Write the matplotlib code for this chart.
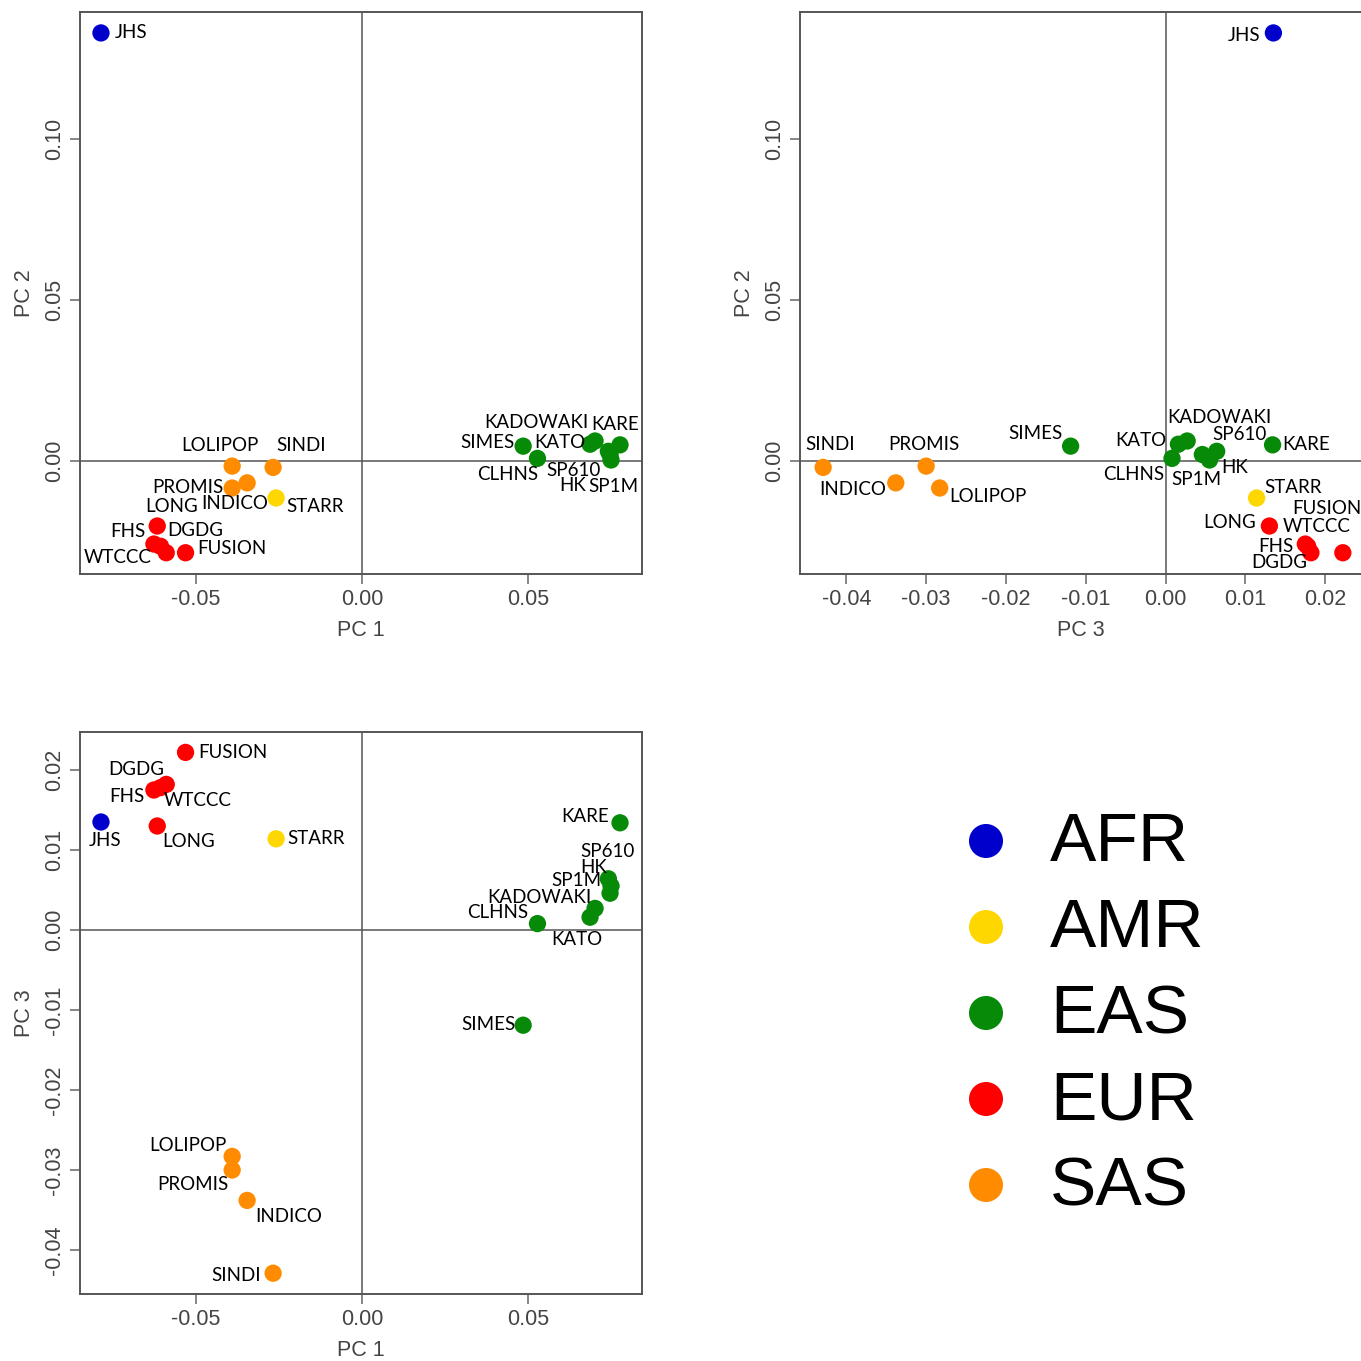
import matplotlib
matplotlib.use("Agg")
import matplotlib.pyplot as plt

# cohort principal components
cohorts = ["JHS", "STARR", "SIMES", "CLHNS", "KATO", "KADOWAKI", "KARE", "SP610",
           "HK", "SP1M", "LONG", "FHS", "WTCCC", "DGDG", "FUSION",
           "PROMIS", "LOLIPOP", "INDICO", "SINDI"]
groups = ["AFR", "AMR", "EAS", "EAS", "EAS", "EAS", "EAS", "EAS",
          "EAS", "EAS", "EUR", "EUR", "EUR", "EUR", "EUR",
          "SAS", "SAS", "SAS", "SAS"]
pc1 = [-0.0784, -0.0258, 0.0484, 0.0527, 0.0685, 0.0700, 0.0775, 0.0740,
       0.0748, 0.0745, -0.0615, -0.0625, -0.0605, -0.0588, -0.0530,
       -0.0390, -0.0390, -0.0345, -0.0267]
pc2 = [0.1329, -0.0115, 0.0046, 0.0008, 0.0052, 0.0062, 0.0050, 0.0030,
       0.0003, 0.0020, -0.0202, -0.0258, -0.0265, -0.0285, -0.0285,
       -0.0016, -0.0084, -0.0068, -0.0020]
pc3 = [0.0135, 0.0114, -0.0119, 0.0008, 0.0016, 0.0027, 0.0134, 0.0064,
       0.0055, 0.0046, 0.0130, 0.0175, 0.0178, 0.0182, 0.0222,
       -0.0300, -0.0283, -0.0338, -0.0429]

group_names = ["AFR", "AMR", "EAS", "EUR", "SAS"]
group_colors = {"AFR": "#0000cd", "AMR": "#ffd700", "EAS": "#078a07",
                "EUR": "#ff0000", "SAS": "#ff8c00"}

# label offsets in pixels (dx, dy) from each dot, one dict per panel
off_12 = {"JHS": (30, 0), "LOLIPOP": (-12, 43), "PROMIS": (-44, -21), "SINDI": (28, 22),
          "INDICO": (-12, -21), "STARR": (39, -9), "LONG": (14, 20), "FHS": (-26, 13),
          "WTCCC": (-43, -11), "DGDG": (29, 22), "FUSION": (46, 4), "SIMES": (-36, 4),
          "CLHNS": (-30, -16), "KATO": (-30, 2), "KADOWAKI": (-59, 18), "KARE": (-5, 20),
          "SP610": (-35, -19), "HK": (-38, -26), "SP1M": (3, -32)}
off_32 = {"JHS": (-29, -3), "SINDI": (7, 23), "PROMIS": (-2, 22), "INDICO": (-43, -7),
          "LOLIPOP": (48, -8), "SIMES": (-35, 13), "KATO": (-38, 4), "KADOWAKI": (32, 23),
          "SP610": (23, 17), "KARE": (34, 0), "CLHNS": (-38, -16), "SP1M": (-6, -25),
          "HK": (25, -8), "STARR": (36, 10), "LONG": (-40, 4), "FUSION": (-16, 44),
          "WTCCC": (9, 20), "FHS": (-29, -2), "DGDG": (-32, -10)}
off_13 = {"FUSION": (47, 0), "DGDG": (-30, 15), "FHS": (-27, -6), "WTCCC": (37, -13),
          "JHS": (4, -18), "LONG": (31, -15), "STARR": (40, 0), "KARE": (-35, 6),
          "SP610": (-1, 27), "HK": (-17, 19), "SP1M": (-34, 13), "KADOWAKI": (-56, 11),
          "KATO": (-13, -22), "CLHNS": (-40, 11), "SIMES": (-35, 1), "LOLIPOP": (-44, 11),
          "PROMIS": (-39, -14), "INDICO": (42, -16), "SINDI": (-37, -2)}

TICK_FONT = "Liberation Sans"
LABEL_FONT = "Lato"
GRID_GREY = "#555555"

fig = plt.figure(figsize=(13.61, 13.61), dpi=100)
W = 1361.0


def add_panel(x0, y0, x1, y1):
    return fig.add_axes([x0 / W, 1 - y1 / W, (x1 - x0) / W, (y1 - y0) / W])


def pca_panel(ax, xs, ys, offsets, xlim, ylim, xticks, yticks, xlabel, ylabel):
    ax.axhline(0, color=GRID_GREY, lw=1.1, zorder=1)
    ax.axvline(0, color=GRID_GREY, lw=1.1, zorder=1)
    cols = [group_colors[g] for g in groups]
    ax.scatter(xs, ys, s=155, c=cols, edgecolors="none", zorder=3)
    for name, x, y in zip(cohorts, xs, ys):
        dx, dy = offsets[name]
        ax.annotate(name, (x, y), xytext=(dx, dy), textcoords="offset pixels",
                    ha="center", va="center", fontsize=13.5, family=LABEL_FONT,
                    color="black", zorder=4)
    ax.set_xlim(xlim)
    ax.set_ylim(ylim)
    ax.set_xticks(xticks)
    ax.set_yticks(yticks)
    ax.set_xticklabels(["{:.2f}".format(v) for v in xticks], family=TICK_FONT,
                       fontsize=15.5, color="#444444")
    ax.set_yticklabels(["{:.2f}".format(v) for v in yticks], family=TICK_FONT,
                       fontsize=15.5, color="#444444", rotation=90, va="center")
    ax.tick_params(direction="out", length=7, width=1.1, color="#666666", pad=4)
    for sp in ax.spines.values():
        sp.set_color("#555555")
        sp.set_linewidth(1.4)
    ax.set_xlabel(xlabel, family=TICK_FONT, fontsize=15.5, color="#444444", labelpad=7)
    ax.set_ylabel(ylabel, family=TICK_FONT, fontsize=15.5, color="#444444", labelpad=6)


# PC1 vs PC2
ax1 = add_panel(80, 12, 642, 574)
pca_panel(ax1, pc1, pc2, off_12, (-0.0847, 0.0841), (-0.0351, 0.1394),
          [-0.05, 0.0, 0.05], [0.0, 0.05, 0.10], "PC 1", "PC 2")

# PC3 vs PC2
ax2 = add_panel(800, 12, 1362, 574)
pca_panel(ax2, pc3, pc2, off_32, (-0.0458, 0.0246), (-0.0351, 0.1394),
          [-0.04, -0.03, -0.02, -0.01, 0.0, 0.01, 0.02], [0.0, 0.05, 0.10],
          "PC 3", "PC 2")

# PC1 vs PC3
ax3 = add_panel(80, 732, 642, 1294)
pca_panel(ax3, pc1, pc3, off_13, (-0.0847, 0.0841), (-0.0455, 0.02475),
          [-0.05, 0.0, 0.05], [-0.04, -0.03, -0.02, -0.01, 0.0, 0.01, 0.02],
          "PC 1", "PC 3")

# population legend
axl = add_panel(940, 800, 1300, 1230)
axl.set_xlim(0, 360)
axl.set_ylim(430, 0)
axl.axis("off")
for i, g in enumerate(group_names):
    yy = 41 + i * 86
    axl.scatter([46], [yy], s=600, color=group_colors[g], edgecolors="none")
    axl.text(110, yy + 2, g, fontsize=50, family=TICK_FONT, va="center", ha="left", color="black")

fig.savefig("out.png", dpi=100)
